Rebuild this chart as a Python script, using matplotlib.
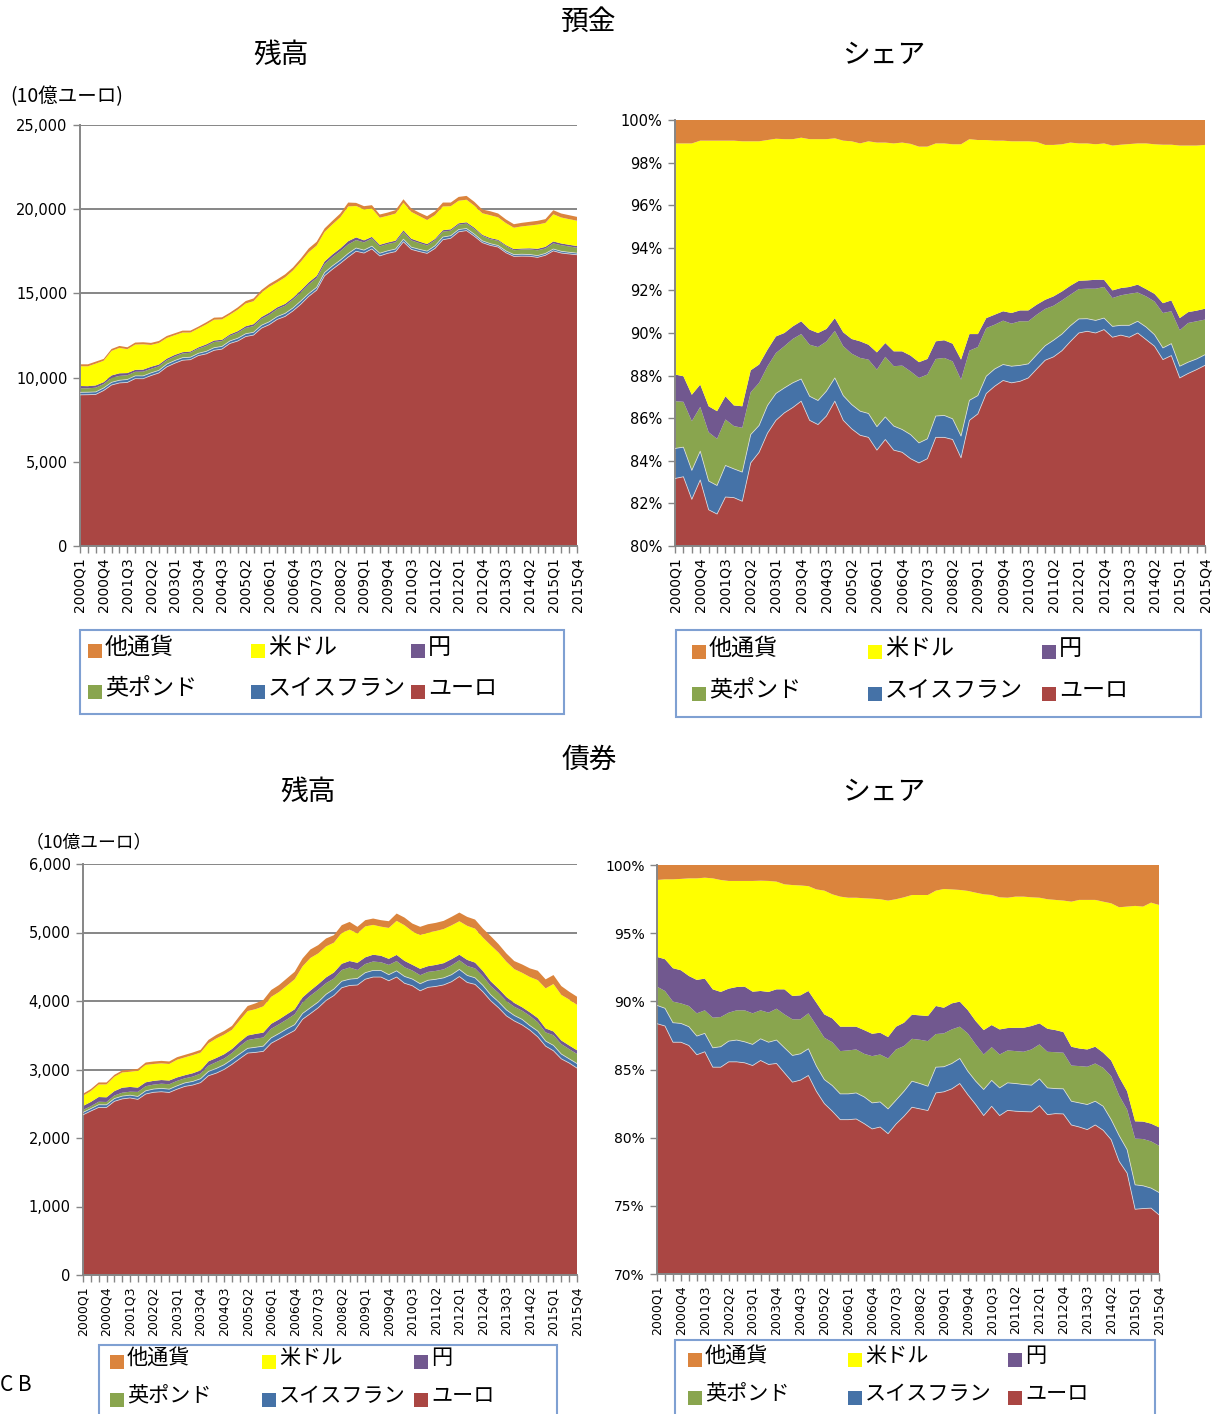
import numpy as np
import matplotlib
matplotlib.use("Agg")
import matplotlib.pyplot as plt
from matplotlib.patches import Rectangle
from matplotlib.ticker import FixedLocator, FuncFormatter

plt.rcParams["font.family"] = ["Noto Sans CJK JP", "DejaVu Sans"]

# ---------------------------------------------------------------- data
quarters = [f"{y}Q{q}" for y in range(2000, 2016) for q in range(1, 5)]

# stacking order (bottom -> top) and colours
currencies = ["ユーロ", "スイスフラン", "英ポンド", "円", "米ドル", "他通貨"]
colors = ["#AA4643", "#4572A7", "#89A54E", "#71588F", "#FFFF00", "#DB843D"]

# Deposits: total outstanding (EUR bn)
dep_total = [10790, 10790, 10950, 11110, 11700, 11880, 11800, 12080, 12100, 12060,
             12175, 12470, 12630, 12790, 12790, 13025, 13280, 13560, 13580, 13855,
             14170, 14545, 14700, 15200, 15555, 15830, 16130, 16540, 17075, 17670,
             18065, 18855, 19310, 19745, 20395, 20375, 20180, 20240, 19685, 19800,
             19940, 20590, 20040, 19800, 19585, 19880, 20395, 20395, 20730, 20790,
             20435, 19980, 19880, 19745, 19390, 19110, 19190, 19250, 19310, 19410,
             19940, 19745, 19645, 19545]

# Deposits: cumulative share (%) from the bottom of the stack
dep_cum_euro = [83.17, 83.25, 82.19, 83.1, 81.7, 81.5, 82.3, 82.27, 82.1, 83.9,
                84.4, 85.3, 85.9, 86.25, 86.5, 86.8, 85.9, 85.7, 86.1, 86.8,
                85.9, 85.5, 85.2, 85.1, 84.5, 85.0, 84.5, 84.4, 84.1, 83.9,
                84.1, 85.1, 85.1, 85.0, 84.14, 85.9, 86.2, 87.16, 87.5, 87.77,
                87.66, 87.73, 87.89, 88.31, 88.72, 88.88, 89.17, 89.6, 90.0, 90.08,
                90.0, 90.16, 89.8, 89.9, 89.8, 90.0, 89.69, 89.38, 88.75, 88.94,
                87.89, 88.1, 88.28, 88.48]
dep_cum_chf = [84.58, 84.64, 83.55, 84.45, 83.05, 82.84, 83.78, 83.62, 83.47, 85.23,
               85.66, 86.6, 87.16, 87.42, 87.66, 87.84, 87.03, 86.83, 87.27, 87.89,
               87.06, 86.64, 86.33, 86.22, 85.6, 86.06, 85.63, 85.47, 85.23, 84.84,
               85.03, 86.1, 86.13, 85.97, 85.16, 86.84, 87.06, 87.97, 88.31, 88.52,
               88.44, 88.48, 88.55, 88.98, 89.4, 89.66, 89.95, 90.34, 90.66, 90.67,
               90.59, 90.7, 90.31, 90.36, 90.36, 90.55, 90.28, 89.92, 89.3, 89.5,
               88.44, 88.63, 88.78, 88.98]
dep_cum_gbp = [86.8, 86.77, 85.86, 86.53, 85.34, 85.03, 85.94, 85.63, 85.55, 87.22,
               87.66, 88.44, 89.06, 89.38, 89.72, 89.95, 89.45, 89.34, 89.6, 90.1,
               89.38, 89.03, 88.83, 88.75, 88.28, 88.88, 88.44, 88.47, 88.2, 87.89,
               88.05, 88.78, 88.83, 88.67, 87.81, 89.17, 89.34, 90.23, 90.39, 90.58,
               90.44, 90.55, 90.55, 90.86, 91.13, 91.28, 91.53, 91.8, 92.06, 92.08,
               92.08, 92.16, 91.64, 91.77, 91.84, 91.9, 91.72, 91.48, 90.94, 91.02,
               90.13, 90.47, 90.55, 90.63]
dep_cum_jpy = [88.05, 87.97, 87.1, 87.58, 86.56, 86.33, 87.03, 86.6, 86.56, 88.25,
               88.52, 89.22, 89.84, 90.0, 90.31, 90.55, 90.16, 90.0, 90.19, 90.7,
               90.03, 89.72, 89.61, 89.45, 89.09, 89.53, 89.14, 89.14, 88.94, 88.63,
               88.78, 89.61, 89.66, 89.5, 88.75, 89.95, 89.95, 90.7, 90.86, 91.02,
               90.94, 91.06, 91.06, 91.33, 91.56, 91.72, 91.95, 92.22, 92.45, 92.47,
               92.5, 92.5, 92.0, 92.11, 92.16, 92.27, 92.06, 91.84, 91.4, 91.53,
               90.7, 90.98, 91.05, 91.14]
dep_cum_usd = [98.9, 98.9, 98.9, 99.03, 99.03, 99.03, 99.03, 99.03, 99.0, 99.0,
               99.0, 99.06, 99.12, 99.1, 99.1, 99.17, 99.1, 99.1, 99.1, 99.14,
               99.03, 99.0, 98.9, 99.0, 98.94, 98.94, 98.9, 98.94, 98.88, 98.75,
               98.75, 98.9, 98.9, 98.86, 98.86, 99.1, 99.06, 99.06, 99.03, 99.03,
               99.0, 99.0, 99.0, 98.97, 98.83, 98.83, 98.86, 98.94, 98.9, 98.9,
               98.86, 98.9, 98.8, 98.84, 98.87, 98.9, 98.9, 98.86, 98.84, 98.84,
               98.8, 98.8, 98.8, 98.83]

# Bonds: total outstanding (EUR bn)
bond_total = [2646, 2714, 2811, 2811, 2922, 2986, 2995, 3010, 3102, 3117,
              3126, 3117, 3180, 3214, 3248, 3287, 3432, 3505, 3563, 3636,
              3787, 3927, 3966, 4015, 4160, 4233, 4330, 4427, 4621, 4752,
              4816, 4913, 4961, 5107, 5155, 5083, 5180, 5204, 5180, 5165,
              5277, 5218, 5131, 5083, 5121, 5141, 5170, 5228, 5291, 5228,
              5189, 5058, 4947, 4830, 4694, 4583, 4534, 4476, 4442, 4316,
              4379, 4218, 4136, 4063]

# Bonds: cumulative share (%) from the bottom of the stack
bond_cum_euro = [88.36, 88.19, 87.0, 87.0, 86.76, 86.08, 86.3, 85.17, 85.17, 85.56,
                 85.56, 85.49, 85.29, 85.66, 85.37, 85.44, 84.75, 84.07, 84.22, 84.56,
                 83.4, 82.5, 81.94, 81.32, 81.32, 81.37, 81.03, 80.64, 80.78, 80.29,
                 81.0, 81.57, 82.23, 82.11, 81.99, 83.28, 83.36, 83.58, 83.97, 83.16,
                 82.43, 81.62, 82.3, 81.62, 82.0, 81.94, 81.91, 81.89, 82.35, 81.69,
                 81.76, 81.74, 80.93, 80.78, 80.59, 80.93, 80.54, 79.85, 78.26, 77.4,
                 74.75, 74.8, 74.83, 74.34]
bond_cum_chf = [89.7, 89.49, 88.43, 88.38, 88.14, 87.45, 87.65, 86.59, 86.67, 87.08,
                87.16, 87.03, 86.84, 87.25, 87.0, 87.16, 86.59, 86.03, 86.15, 86.52,
                85.25, 84.26, 83.82, 83.21, 83.21, 83.28, 82.99, 82.55, 82.62, 82.11,
                82.75, 83.4, 84.14, 83.97, 83.77, 85.17, 85.2, 85.44, 85.81, 84.88,
                84.14, 83.53, 84.2, 83.65, 84.02, 83.97, 83.9, 83.85, 84.31, 83.65,
                83.6, 83.58, 82.67, 82.55, 82.43, 82.67, 82.3, 81.32, 80.15, 79.12,
                76.54, 76.47, 76.3, 75.98]
bond_cum_gbp = [91.08, 90.76, 89.98, 89.85, 89.66, 89.12, 89.34, 88.8, 88.85, 89.17,
                89.34, 89.34, 89.12, 89.34, 89.17, 89.46, 89.04, 88.68, 88.68, 89.12,
                88.24, 87.33, 87.0, 86.35, 86.4, 86.47, 86.15, 85.98, 86.1, 85.81,
                86.47, 86.72, 87.25, 87.18, 87.08, 87.6, 87.65, 87.94, 88.14, 87.65,
                86.84, 86.1, 86.64, 86.1, 86.4, 86.35, 86.3, 86.47, 86.84, 86.3,
                86.27, 86.23, 85.29, 85.25, 85.2, 85.44, 85.12, 84.51, 83.09, 82.06,
                79.93, 79.9, 79.73, 79.41]
bond_cum_jpy = [93.26, 93.09, 92.43, 92.28, 91.86, 91.57, 91.67, 90.88, 90.69, 90.93,
                91.05, 91.08, 90.71, 90.76, 90.69, 90.88, 90.88, 90.39, 90.44, 90.76,
                89.9, 89.04, 88.75, 88.14, 88.14, 88.14, 87.89, 87.62, 87.7, 87.38,
                88.14, 88.43, 89.02, 88.97, 88.92, 89.66, 89.53, 89.85, 89.98, 89.36,
                88.55, 87.89, 88.26, 87.94, 88.04, 88.06, 88.06, 88.19, 88.38, 87.99,
                87.89, 87.75, 86.67, 86.54, 86.47, 86.67, 86.23, 85.66, 84.44, 83.4,
                81.2, 81.18, 81.03, 80.76]
bond_cum_usd = [98.9, 98.95, 98.95, 98.98, 99.02, 99.02, 99.07, 99.02, 98.9, 98.83,
                98.83, 98.83, 98.83, 98.85, 98.83, 98.78, 98.58, 98.53, 98.5, 98.45,
                98.21, 98.12, 97.85, 97.68, 97.6, 97.6, 97.56, 97.53, 97.49, 97.39,
                97.49, 97.63, 97.8, 97.8, 97.8, 98.12, 98.24, 98.21, 98.17, 98.1,
                97.97, 97.85, 97.8, 97.63, 97.6, 97.68, 97.68, 97.63, 97.6, 97.49,
                97.44, 97.39, 97.31, 97.44, 97.44, 97.44, 97.31, 97.19, 96.9, 96.95,
                97.0, 96.95, 97.24, 97.07]

# ---------------------------------------------------------------- layout
W, H = 1216, 1414
fig = plt.figure(figsize=(W / 100, H / 100), dpi=100)
GRAY = "#868686"


def fx(px):
    return px / W


def fy(py):
    return 1 - py / H


def add_axes(x0, y0, x1, y1):
    return fig.add_axes([fx(x0), fy(y1), fx(x1) - fx(x0), fy(y0) - fy(y1)])


def style_axes(ax, xsize, ysize):
    for s in ("top", "right"):
        ax.spines[s].set_visible(False)
    for s in ("left", "bottom"):
        ax.spines[s].set_color(GRAY)
        ax.spines[s].set_linewidth(1.4)
    x = np.arange(len(quarters))
    ax.set_xlim(0, len(quarters) - 1)
    ax.set_xticks(x)
    ax.set_xticklabels([q if i % 3 == 0 else "" for i, q in enumerate(quarters)],
                       rotation=90)
    ax.tick_params(axis="both", colors=GRAY, labelcolor="black", length=5,
                   width=1.0, labelfontfamily="DejaVu Sans")
    ax.tick_params(axis="x", pad=3, labelsize=xsize)
    ax.tick_params(axis="y", pad=4, labelsize=ysize)


def stack_fill(ax, bounds):
    x = np.arange(len(quarters))
    for k in range(len(bounds) - 1):
        ax.fill_between(x, bounds[k], bounds[k + 1], facecolor=colors[k],
                        edgecolor="none", linewidth=0, zorder=2)
    # thin light seams between the lower bands
    for k in (1, 2):
        ax.plot(x, bounds[k], color="#e6e6e6", lw=0.6, alpha=0.8, zorder=3)


def stock_panel(ax, total, cums, ymax, step, xsize, ysize):
    total = np.asarray(total, dtype=float)
    bounds = [np.zeros_like(total)]
    bounds += [total * np.asarray(c) / 100 for c in cums]
    bounds.append(total)
    stack_fill(ax, bounds)
    style_axes(ax, xsize, ysize)
    ax.set_ylim(0, ymax)
    ax.yaxis.set_major_locator(FixedLocator(np.arange(0, ymax + 1, step)))
    ax.yaxis.set_major_formatter(FuncFormatter(lambda v, p: f"{v:,.0f}"))
    ax.yaxis.grid(True, color=GRAY, lw=1.4)
    ax.set_axisbelow(True)


def share_panel(ax, cums, ymin, step, xsize, ysize):
    n = len(quarters)
    bounds = [np.zeros(n)] + [np.asarray(c, dtype=float) for c in cums] + [np.full(n, 100.0)]
    stack_fill(ax, bounds)
    style_axes(ax, xsize, ysize)
    ax.set_ylim(ymin, 100)
    ax.yaxis.set_major_locator(FixedLocator(np.arange(ymin, 100.1, step)))
    ax.yaxis.set_major_formatter(FuncFormatter(lambda v, p: f"{v:.0f}%"))


dep_cums = [dep_cum_euro, dep_cum_chf, dep_cum_gbp, dep_cum_jpy, dep_cum_usd]
bond_cums = [bond_cum_euro, bond_cum_chf, bond_cum_gbp, bond_cum_jpy, bond_cum_usd]

ax1 = add_axes(80, 125, 577, 546)
stock_panel(ax1, dep_total, dep_cums, 25000, 5000, 10, 10.5)
ax2 = add_axes(675, 120, 1205, 546)
share_panel(ax2, dep_cums, 80, 2, 10, 10.5)
ax3 = add_axes(83, 864, 577, 1275)
stock_panel(ax3, bond_total, bond_cums, 6000, 1000, 9, 10.5)
ax4 = add_axes(657, 865, 1159, 1274)
share_panel(ax4, bond_cums, 70, 5, 9, 10)

# ---------------------------------------------------------------- titles
TS = 20
fig.text(fx(589), fy(22), "預金", ha="center", va="center", fontsize=TS)
fig.text(fx(281), fy(55), "残高", ha="center", va="center", fontsize=TS)
fig.text(fx(884), fy(55), "シェア", ha="center", va="center", fontsize=TS)
fig.text(fx(589), fy(760), "債券", ha="center", va="center", fontsize=TS)
fig.text(fx(308), fy(792), "残高", ha="center", va="center", fontsize=TS)
fig.text(fx(884), fy(792), "シェア", ha="center", va="center", fontsize=TS)

fig.text(fx(10), fy(97), "(10億ユーロ)", ha="left", va="center", fontsize=14)
fig.text(fx(26), fy(842), "（10億ユーロ）", ha="left", va="center", fontsize=12.8)
fig.text(fx(0), fy(1385), "C B", ha="left", va="center", fontsize=15)


# ---------------------------------------------------------------- legends
def legend_box(x0, y0, x1, y1, marker_x, rows_y, fs):
    fig.add_artist(Rectangle((fx(x0), fy(y1)), fx(x1) - fx(x0), fy(y0) - fy(y1),
                             transform=fig.transFigure, facecolor="white",
                             edgecolor="#7FA0D2", lw=1.5, zorder=5))
    layout = [[5, 4, 3], [2, 1, 0]]
    s = 14
    for r, row in enumerate(layout):
        for c, k in enumerate(row):
            mx, cy = marker_x[c], rows_y[r]
            fig.add_artist(Rectangle((fx(mx), fy(cy + 4 + s / 2)), s / W, s / H,
                                     transform=fig.transFigure,
                                     facecolor=colors[k], edgecolor="none", zorder=6))
            fig.text(fx(mx + s + 3), fy(cy), currencies[k], ha="left", va="center",
                     fontsize=fs, zorder=7)


legend_box(80, 630, 564, 714, [88, 251, 411], [647, 688], 16.6)
legend_box(676, 630, 1201, 717, [692, 868, 1042], [648, 690], 16.6)
legend_box(99, 1345, 557, 1440, [110, 262, 414], [1358, 1396], 15.2)
legend_box(675, 1340, 1155, 1440, [688, 848, 1008], [1356, 1394], 15.2)

fig.savefig("out.png", dpi=100)
